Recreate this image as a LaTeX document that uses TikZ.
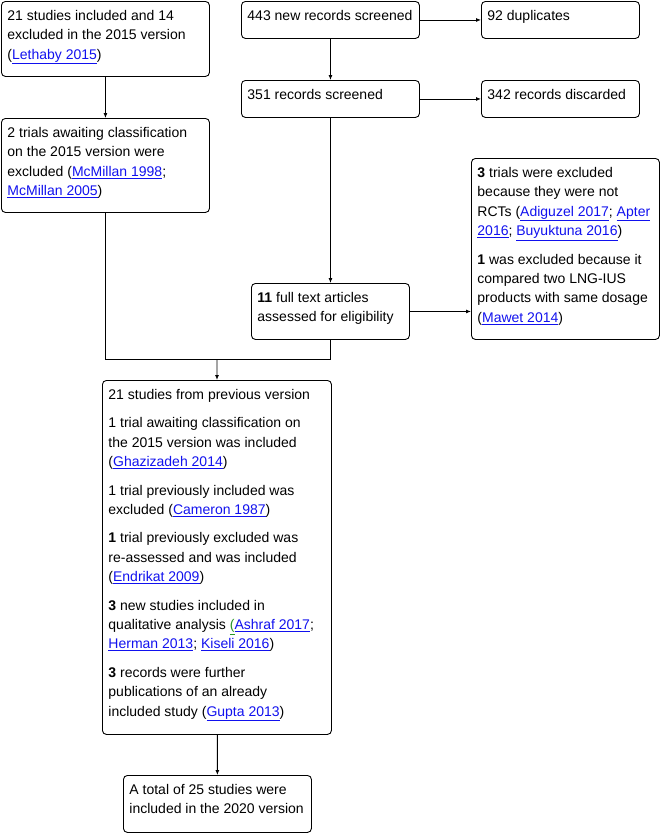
\documentclass[tikz,border=0pt]{standalone}
\usepackage{fontspec}
\setmainfont{Liberation Sans}
\usetikzlibrary{arrows.meta}
\definecolor{linkblue}{RGB}{17,17,238}
\definecolor{linkgreen}{RGB}{40,150,40}
\newcommand{\lnk}[1]{\textcolor{linkblue}{\underline{#1}}}
\newcommand{\boxtxt}[3]{\parbox[t][#2pt][t]{\dimexpr#1pt-12pt\relax}{\rule{0pt}{19pt}\begin{tabular}[t]{@{}l@{}}#3\end{tabular}}}

\begin{document}
\begin{tikzpicture}[x=1pt, y=-1pt, line width=0.9pt,
    box/.style={draw, rounded corners=4pt, inner xsep=6pt, inner ysep=0pt, anchor=north west, font=\fontsize{14}{19.4}\selectfont},
    arr/.style={-{Latex[length=5pt,width=4pt]}}]
        \useasboundingbox (0,0) rectangle (661,833);

        % Draw nodes
        \node[box] (prev) at (1,1) {\boxtxt{208}{75}{21 studies included and 14\\ excluded in the 2015 version\\ (\lnk{Lethaby 2015})}};
        \node[box] (new) at (241,1) {\boxtxt{178}{37}{443 new records screened}};
        \node[box] (dup) at (481,1) {\boxtxt{158}{37}{92 duplicates}};
        \node[box] (screen) at (241,80) {\boxtxt{178}{37}{351 records screened}};
        \node[box] (disc) at (481,80) {\boxtxt{158}{37}{342 records discarded}};
        \node[box] (await) at (1,118) {\boxtxt{208}{94}{2 trials awaiting classification\\ on the 2015 version were\\ excluded (\lnk{McMillan 1998}; \\ \lnk{McMillan 2005})}};
        \node[box] (excl) at (471,158) {\boxtxt{188}{181}{\textbf{3} trials were excluded\\ because they were not\\ RCTs (\lnk{Adiguzel 2017}; \lnk{Apter}\\ \lnk{2016}; \lnk{Buyuktuna 2016})\\[9pt] \textbf{1} was excluded because it\\ compared two LNG-IUS\\ products with same dosage\\ (\lnk{Mawet 2014})}};
        \node[box] (full) at (251,283) {\boxtxt{158}{56}{\textbf{11} full text articles\\ assessed for eligibility}};
        \node[box] (studies) at (102,380) {\boxtxt{229}{354}{21 studies from previous version\\[9pt] 1 trial awaiting classification on\\ the 2015 version was included\\ (\lnk{Ghazizadeh 2014})\\[9pt] 1 trial previously included was\\ excluded (\lnk{Cameron 1987})\\[9pt] \textbf{1} trial previously excluded was\\ re-assessed and was included\\ (\lnk{Endrikat 2009})\\[9pt] \textbf{3} new studies included in\\ qualitative analysis \textcolor{linkgreen}{\underline{(}}\lnk{Ashraf 2017};\\ \lnk{Herman 2013}; \lnk{Kiseli 2016})\\[9pt] \textbf{3} records were further\\ publications of an already\\ included study (\lnk{Gupta 2013})}};
        \node[box] (total) at (123,775) {\boxtxt{188}{57}{A total of 25 studies were\\ included in the 2020 version}};
        \coordinate (join) at (217,359);

        % Draw connections
        \draw[arr] (prev) -- (await);
        \draw[arr] (new) -- (dup);
        \draw[arr] (new) -- (screen);
        \draw[arr] (screen) -- (disc);
        \draw[arr] (screen) -- (full);
        \draw[arr] (full.east) -- (full.east -| excl.west);
        \draw (await) |- (join);
        \draw (full) |- (join);
        \draw[arr] (join) -- (studies);
        \draw[arr] (studies) -- (total);
    \end{tikzpicture}
\end{document}
